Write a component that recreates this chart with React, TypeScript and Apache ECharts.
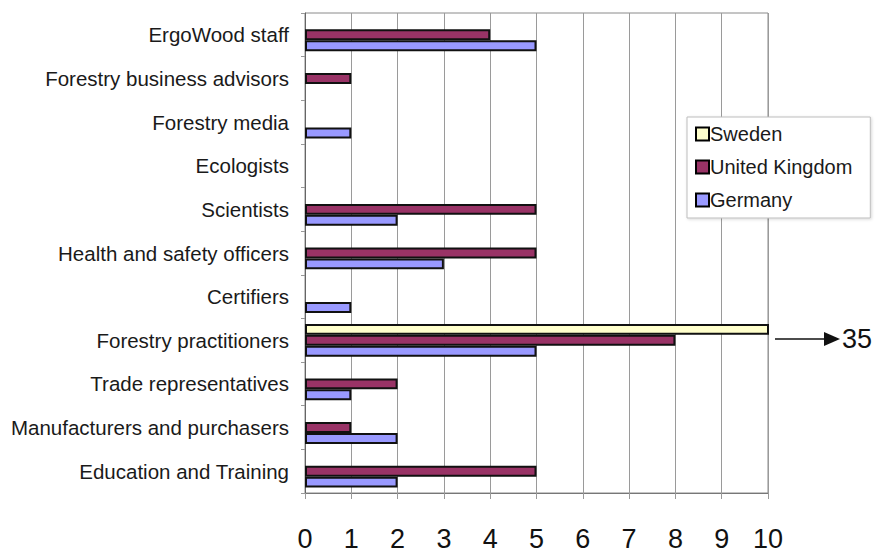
import React, { useEffect, useRef } from "react";
import * as echarts from "echarts";

const categories = [
  "ErgoWood staff",
  "Forestry business advisors",
  "Forestry media",
  "Ecologists",
  "Scientists",
  "Health and safety officers",
  "Certifiers",
  "Forestry practitioners",
  "Trade representatives",
  "Manufacturers and purchasers",
  "Education and Training",
];

const seriesNames = ["Sweden", "United Kingdom", "Germany"];
const sweden: (number | null)[] = [null, null, null, null, null, null, null, 35, null, null, null];
const unitedKingdom: (number | null)[] = [4, 1, null, null, 5, 5, null, 8, 2, 1, 5];
const germany: (number | null)[] = [5, null, 1, null, 2, 3, 1, 5, 1, 2, 2];
const xTicks = [0, 10, 1]; // min, max, interval
const overflowCategory = "Forestry practitioners";
const overflowValue = 35;

const colors = ["#FFFFCC", "#993366", "#9999FF"];
const FONT = "Liberation Sans, Arial, sans-serif";

export default function App() {
  const ref = useRef<HTMLDivElement>(null);
  useEffect(() => {
    if (!ref.current) return;
    const chart = echarts.init(ref.current, undefined, { renderer: "svg" });
    const data = [sweden, unitedKingdom, germany];
    chart.setOption({
      animation: false,
      backgroundColor: "#ffffff",
      textStyle: { fontFamily: FONT },
      grid: { left: 305, right: 107, top: 13, bottom: 56, show: true, borderColor: "#8a8a8a", borderWidth: 1 },
      legend: {
        orient: "vertical",
        left: 687,
        top: 117,
        data: seriesNames,
        itemWidth: 13,
        itemHeight: 13,
        itemGap: 13,
        padding: [7, 18, 8, 8],
        backgroundColor: "#ffffff",
        borderColor: "#bdbdbd",
        borderWidth: 1,
        shadowColor: "rgba(0,0,0,0.15)",
        shadowBlur: 3,
        shadowOffsetX: 1,
        shadowOffsetY: 1,
        icon: "rect",
        itemStyle: { borderColor: "#000", borderWidth: 2 },
        textStyle: { fontSize: 20, color: "#1a1a1a", fontFamily: FONT, padding: [0, 0, 0, -4] },
      },
      xAxis: {
        type: "value",
        min: xTicks[0],
        max: xTicks[1],
        interval: xTicks[2],
        axisLine: { show: true, lineStyle: { color: "#777", width: 1 } },
        axisTick: { show: true, length: 6, lineStyle: { color: "#999" } },
        splitLine: { show: true, lineStyle: { color: "#9a9a9a", width: 1 } },
        axisLabel: { fontSize: 27, color: "#111", margin: 32, fontFamily: FONT },
      },
      yAxis: {
        type: "category",
        data: categories,
        inverse: true,
        axisLine: { show: true, lineStyle: { color: "#666", width: 1 } },
        axisTick: { show: true, length: 4, lineStyle: { color: "#999" } },
        axisLabel: { fontSize: 20.5, color: "#1a1a1a", margin: 16, fontFamily: FONT },
      },
      series: seriesNames.map((name, i) => ({
        name,
        type: "bar",
        data: data[i],
        barGap: "0%",
        barCategoryGap: "25%",
        clip: true,
        itemStyle: { color: colors[i], borderColor: "#111", borderWidth: 2 },
      })),
    });
    const ctr = chart.convertToPixel({ yAxisIndex: 0 }, overflowCategory) as number;
    const xEnd = chart.convertToPixel({ xAxisIndex: 0 }, xTicks[1]) as number;
    const y = Math.round(ctr) - 1;
    chart.setOption({
      graphic: [
        { type: "line", shape: { x1: xEnd + 7, y1: y, x2: xEnd + 60, y2: y }, style: { stroke: "#111", lineWidth: 1.5 } },
        { type: "polygon", shape: { points: [[xEnd + 56, y - 7], [xEnd + 72, y], [xEnd + 56, y + 7]] }, style: { fill: "#111" } },
        {
          type: "text",
          x: xEnd + 74,
          y,
          style: { text: String(overflowValue), fontSize: 27, fontFamily: FONT, fill: "#111", verticalAlign: "middle", align: "left" },
        },
      ],
    });
    return () => chart.dispose();
  }, []);
  return <div ref={ref} style={{ position: "fixed", left: 0, top: 0, width: 875, height: 552 }} />;
}
